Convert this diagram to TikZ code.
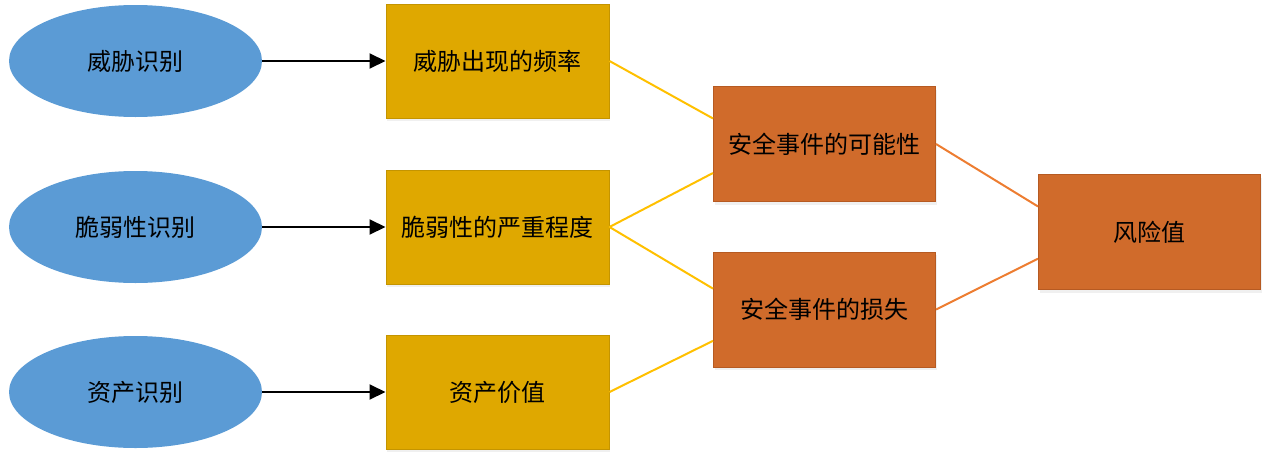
\documentclass[tikz,border=0pt]{standalone}
\usepackage{fontspec}
\setmainfont{Noto Sans CJK SC}
\usetikzlibrary{shapes.geometric,arrows.meta,calc,shadows}
\definecolor{ellblue}{HTML}{5B9BD5}
\definecolor{boxyel}{HTML}{DFA800}
\definecolor{boxyelb}{HTML}{C49400}
\definecolor{boxora}{HTML}{D06B2B}
\definecolor{boxorab}{HTML}{B65A22}
\definecolor{lineyel}{HTML}{FFC000}
\definecolor{lineora}{HTML}{ED7D31}
\tikzset{
  every node/.style={font=\fontsize{24}{28}\selectfont, text=black},
  ident/.style={ellipse, fill=ellblue, minimum width=253pt, minimum height=112pt, inner sep=0pt},
  ybox/.style={rectangle, fill=boxyel, draw=boxyelb, line width=1pt, minimum width=223pt, minimum height=114pt, inner sep=0pt,
    drop shadow={opacity=0.12, shadow xshift=1pt, shadow yshift=-3pt}},
  obox/.style={rectangle, fill=boxora, draw=boxorab, line width=1pt, minimum width=222pt, minimum height=115pt, inner sep=0pt,
    drop shadow={opacity=0.12, shadow xshift=1pt, shadow yshift=-3pt}},
  arr/.style={draw=black, line width=2pt, -{Triangle[length=16pt,width=15pt]}},
  yline/.style={draw=lineyel, line width=2pt},
  oline/.style={draw=lineora, line width=2pt},
}
\begin{document}
\begin{tikzpicture}[x=1pt,y=-1pt]
\useasboundingbox (0,0) rectangle (1271,463);
\node[ident] (e1) at (135.5,61) {威胁识别};
\node[ident] (e2) at (135.5,227) {脆弱性识别};
\node[ident] (e3) at (135.5,392) {资产识别};
\node[ybox] (y1) at (497.5,61) {威胁出现的频率};
\node[ybox] (y2) at (497.5,227) {脆弱性的严重程度};
\node[ybox] (y3) at (497.5,392) {资产价值};
\node[obox] (o1) at (824.5,144) {安全事件的可能性};
\node[obox] (o2) at (824.5,309.5) {安全事件的损失};
\node[obox] (r) at (1149.5,232) {风险值};
\draw[arr] (e1) -- (y1);
\draw[arr] (e2) -- (y2);
\draw[arr] (e3) -- (y3);
\draw[yline] (y1.east) -- ($(o1.north west)!0.28!(o1.south west)$);
\draw[yline] (y2.east) -- ($(o1.north west)!0.75!(o1.south west)$);
\draw[yline] (y2.east) -- ($(o2.north west)!0.32!(o2.south west)$);
\draw[yline] (y3.east) -- ($(o2.north west)!0.77!(o2.south west)$);
\draw[oline] (o1.east) -- ($(r.north west)!0.28!(r.south west)$);
\draw[oline] (o2.east) -- ($(r.north west)!0.73!(r.south west)$);
\end{tikzpicture}
\end{document}
